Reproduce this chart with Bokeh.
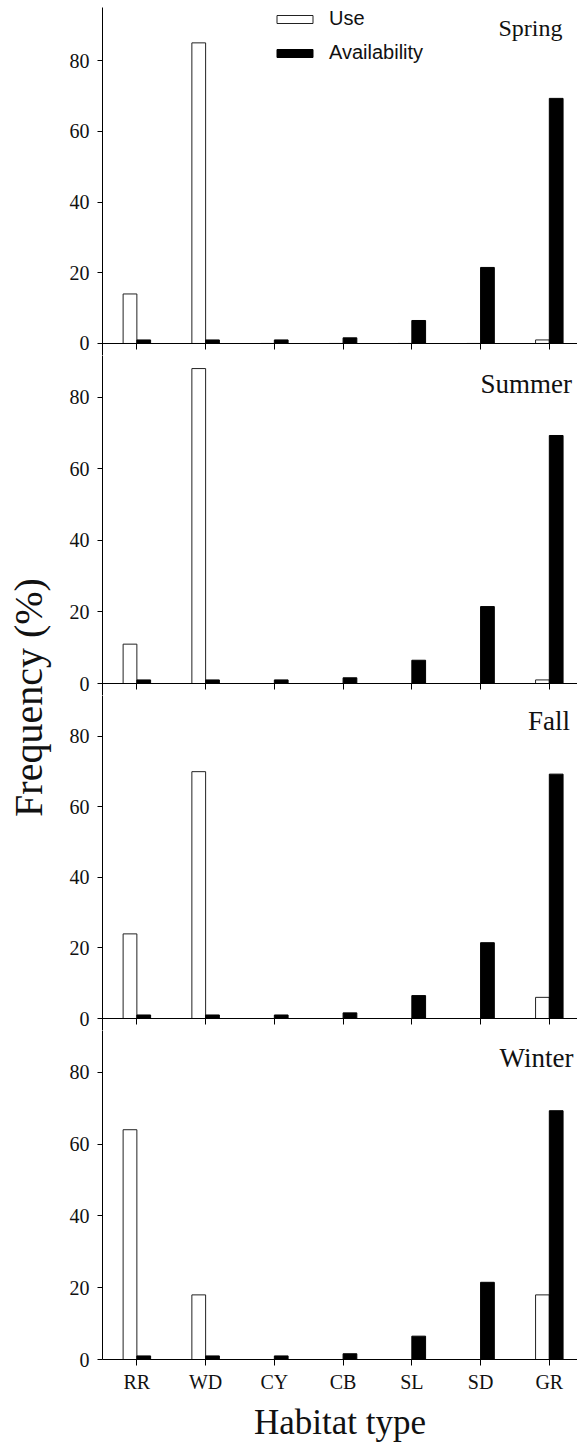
from math import pi
from bokeh.plotting import figure
from bokeh.models import (Range1d, FixedTicker, Label, Legend, LegendItem,
                          ColumnDataSource)
from bokeh.layouts import row, column
from bokeh.transform import dodge
from bokeh.embed import file_html
from bokeh.resources import INLINE

# ---------------- data ----------------
categories = ["RR", "WD", "CY", "CB", "SL", "SD", "GR"]
seasons = ["Spring", "Summer", "Fall", "Winter"]
use_spring = [14, 85, 0, 0, 0, 0, 1]
use_summer = [11, 88, 0, 0, 0, 0, 1]
use_fall = [24, 70, 0, 0, 0, 0, 6]
use_winter = [64, 18, 0, 0, 0, 0, 18]
availability = [1, 1, 1, 1.6, 6.5, 21.5, 69.3]
y_ticks = [0, 20, 40, 60, 80]
y_label = "Frequency (%)"
x_label = "Habitat type"
legend_labels = ["Use", "Availability"]

uses = [use_spring, use_summer, use_fall, use_winter]

# ---------------- style / layout ----------------
SERIF = "Liberation Serif"
SANS = "Liberation Sans"
top_border = 7
frame_h = [348, 340, 335, 327]
y_ranges = [(-3.4, 95), (-3.35, 91.65), (-3.4, 91.6), (0, 91.64)]
bottom_border = 87
label_w = 58
panel_w = 519
left_border = 44
season_right = [460, 469.5, 467.5, 471]
season_y = [89.1, 83.8, 84.4, 84.1]
season_size = ["24px", "27px", "27px", "27px"]

panels = []
for k, (season, use) in enumerate(zip(seasons, uses)):
    first = k == 0
    last = k == len(seasons) - 1
    src = ColumnDataSource(dict(x=list(range(len(categories))), use=use,
                                avail=availability))
    h = frame_h[k] + (bottom_border if last else 0) + (top_border if first else 0)
    p = figure(width=panel_w, height=h,
               x_range=Range1d(-0.5, 6.41), y_range=Range1d(*y_ranges[k]),
               output_backend="svg", toolbar_location=None,
               min_border_left=left_border, min_border_right=0,
               min_border_top=top_border if first else 0, min_border_bottom=0)
    p.outline_line_color = None
    p.grid.visible = False
    p.background_fill_color = "white"

    r_use = p.vbar(x=dodge("x", -0.1), top="use", width=0.2, source=src,
                   fill_color="white", line_color="#222222", line_width=1)
    r_av = p.vbar(x=dodge("x", 0.1), top="avail", width=0.2, source=src,
                  fill_color="black", line_color="black", line_width=1)

    ya = p.yaxis[0]
    ya.ticker = FixedTicker(ticks=y_ticks)
    ya.minor_tick_line_color = None
    ya.major_tick_out = 5
    ya.major_tick_in = 0
    ya.major_label_standoff = 8
    ya.major_label_text_font = SERIF
    ya.major_label_text_font_size = "20px"
    ya.major_label_text_color = "#111111"
    ya.axis_line_color = "black"
    ya.major_tick_line_color = "black"

    xa = p.xaxis[0]
    xa.ticker = FixedTicker(ticks=list(range(len(categories))))
    xa.minor_tick_line_color = None
    xa.major_tick_out = 6
    xa.major_tick_in = 0
    xa.axis_line_color = "black"
    xa.major_tick_line_color = "black"
    if last:
        xa.major_label_overrides = {i: c for i, c in enumerate(categories)}
        xa.major_label_standoff = 5
        xa.major_label_text_font = SERIF
        xa.major_label_text_font_size = "20px"
        xa.major_label_text_color = "#111111"
        xa.axis_label = x_label
        xa.axis_label_standoff = 7
        xa.axis_label_text_font = SERIF
        xa.axis_label_text_font_size = "35px"
        xa.axis_label_text_font_style = "normal"
        xa.axis_label_text_color = "#111111"
    else:
        xa.fixed_location = 0
        xa.major_label_overrides = {i: "" for i in range(len(categories))}
        xa.major_label_text_font_size = "0px"

    p.add_layout(Label(x=season_right[k], y=season_y[k], x_units="screen",
                       text=season, text_align="right",
                       text_baseline="alphabetic", text_font=SERIF,
                       text_font_size=season_size[k], text_color="#111111"))

    if first:
        legend = Legend(items=[LegendItem(label=legend_labels[0], renderers=[r_use]),
                               LegendItem(label=legend_labels[1], renderers=[r_av])],
                        location=(170, frame_h[0] - 2 - 55))
        legend.glyph_width = 45
        legend.glyph_height = 10
        legend.label_standoff = 12
        legend.spacing = 11
        legend.padding = 0
        legend.margin = 0
        legend.border_line_color = None
        legend.background_fill_alpha = 0
        legend.label_text_font = SANS
        legend.label_text_font_size = "20px"
        legend.label_text_color = "#111111"
        p.add_layout(legend)
    panels.append(p)

total_h = top_border + sum(frame_h) + bottom_border
lab = figure(width=label_w, height=total_h, x_range=Range1d(0, label_w),
             y_range=Range1d(0, total_h), output_backend="svg",
             toolbar_location=None, min_border=0)
lab.axis.visible = False
lab.grid.visible = False
lab.outline_line_color = None
lab.add_layout(Label(x=27.5, y=total_h - 697, text=y_label, angle=pi / 2,
                     text_align="center", text_baseline="middle",
                     text_font=SERIF, text_font_size="40px",
                     text_color="#111111"))

layout = row(lab, column(*panels, spacing=0), spacing=0)
open("out.html", "w").write(file_html(layout, INLINE))
